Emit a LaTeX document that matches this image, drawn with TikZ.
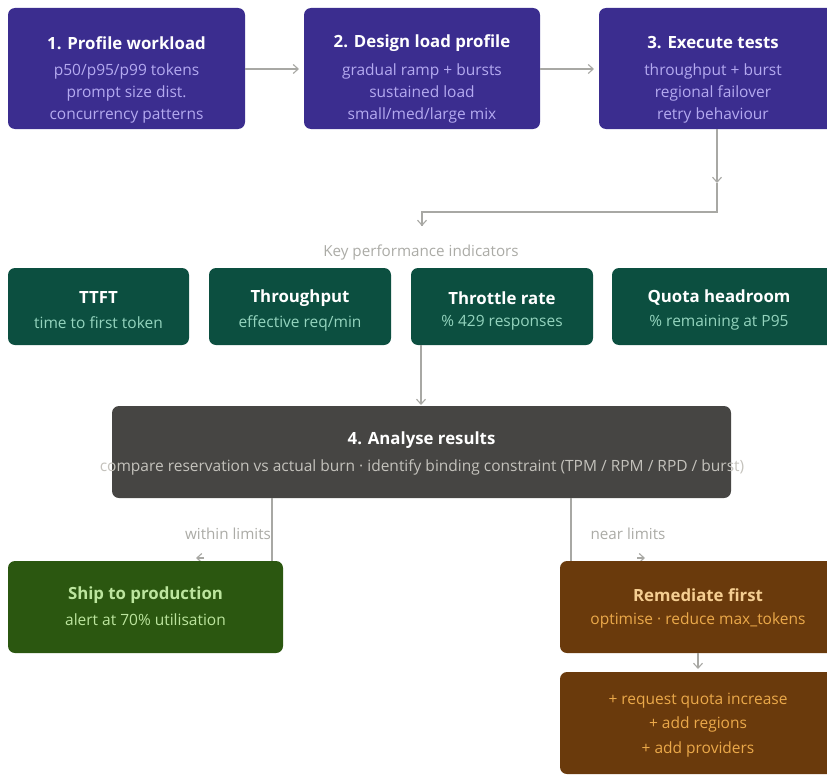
\documentclass[tikz,border=0pt]{standalone}
\usepackage{fontspec}
\setmainfont{Open Sans}
\usetikzlibrary{arrows.meta}
\definecolor{indigo}{HTML}{3B2D8F}
\definecolor{indigosub}{HTML}{B4AAF0}
\definecolor{teal}{HTML}{0C4F40}
\definecolor{tealsub}{HTML}{94D4BE}
\definecolor{slate}{HTML}{464543}
\definecolor{slatesub}{HTML}{C4C2BC}
\definecolor{leaf}{HTML}{2B5710}
\definecolor{leafsub}{HTML}{BCE59E}
\definecolor{rust}{HTML}{6A3A0C}
\definecolor{rusttitle}{HTML}{F5CE92}
\definecolor{rustsub}{HTML}{EBA94A}
\definecolor{wire}{HTML}{A8A8A4}
\definecolor{note}{HTML}{ABABA6}
\tikzset{
  x=1pt, y=-1pt,
  card/.style={rounded corners=7pt, draw=none},
  ttl/.style={font=\fontsize{16.8}{20}\selectfont\bfseries},
  sub/.style={font=\fontsize{15.5}{22}\selectfont, align=center},
  wirestyle/.style={draw=wire, line width=1.1pt, -{Straight Barb[length=5pt,width=9pt]}},
  notestyle/.style={text=note, font=\fontsize{15.2}{16}\selectfont},
}
\begin{document}
\begin{tikzpicture}
\useasboundingbox (0,0) rectangle (827,776);
\clip (0,0) rectangle (827,776);

% stage cards
\path[card, fill=indigo] (8,8) rectangle (245,129);
\path[card, fill=indigo] (304,8) rectangle (540,129);
\path[card, fill=indigo] (599,8) rectangle (845,129);
\node[ttl, text=white] (s1) at (126.5,43) {1. Profile workload};
\node[sub, text=indigosub] (s1b) at (126.5,93.5) {p50/p95/p99 tokens\\prompt size dist.\\concurrency patterns};
\node[ttl, text=white] (s2) at (422,43) {2. Design load profile};
\node[sub, text=indigosub] (s2b) at (422,93.5) {gradual ramp + bursts\\sustained load\\small/med/large mix};
\node[ttl, text=white] (s3) at (713,43) {3. Execute tests};
\node[sub, text=indigosub] (s3b) at (713,93.5) {throughput + burst\\regional failover\\retry behaviour};

\coordinate (a1s) at (245,69); \coordinate (a1e) at (299,69);
\coordinate (a2s) at (540,69); \coordinate (a2e) at (594,69);
\draw[wirestyle] (a1s) -- (a1e);
\draw[wirestyle] (a2s) -- (a2e);

% stage 3 to indicators
\coordinate (d0) at (717,129);
\coordinate (d1) at (717,183);
\coordinate (d2) at (717,212);
\coordinate (d3) at (422,212);
\coordinate (d4) at (422,226);
\draw[wirestyle] (d0) -- (d1);
\draw[draw=wire, line width=1.1pt] (d1) -- (d2) -- (d3) -- (d4);
\draw[wirestyle] (422,218) -- (d4);

\node[notestyle] (kpi) at (421,253) {Key performance indicators};

% indicator cards
\path[card, fill=teal] (8,268) rectangle (189,345);
\path[card, fill=teal] (209,268) rectangle (391,345);
\path[card, fill=teal] (411,268) rectangle (593,345);
\path[card, fill=teal] (612,268) rectangle (850,345);
\node[ttl, text=white] (k1) at (98.5,298) {TTFT};
\node[sub, text=tealsub] (k1b) at (98.5,323) {time to first token};
\node[ttl, text=white] (k2) at (300,298) {Throughput};
\node[sub, text=tealsub] (k2b) at (300,323) {effective req/min};
\node[ttl, text=white] (k3) at (502,298) {Throttle rate};
\node[sub, text=tealsub] (k3b) at (502,323) {\% 429 responses};
\node[ttl, text=white] (k4) at (719,298) {Quota headroom};
\node[sub, text=tealsub] (k4b) at (719,323) {\% remaining at P95};

\coordinate (t0) at (421,345); \coordinate (t1) at (421,405);
\draw[wirestyle] (t0) -- (t1);

% analysis
\path[card, fill=slate] (112,406) rectangle (731,498);
\node[ttl, text=white] (an) at (421.5,440) {4. Analyse results};
\node[sub, text=slatesub] (anb) at (422,467) {compare reservation vs actual burn · identify binding constraint (TPM / RPM / RPD / burst)};

% outcomes
\coordinate (w0) at (272,498); \coordinate (w1) at (272,561);
\draw[draw=wire, line width=1.1pt] (w0) -- (w1);
\node[notestyle] (wl) at (228,534) {within limits};
\draw[wirestyle] (204,558) -- (196,558);

\coordinate (n0) at (571,498); \coordinate (n1) at (571,561);
\draw[draw=wire, line width=1.1pt] (n0) -- (n1);
\node[notestyle] (nl) at (628,534) {near limits};
\draw[wirestyle] (637,558) -- (645,558);

\path[card, fill=leaf] (8,561) rectangle (283,653);
\node[ttl, text=leafsub] (sh) at (145.5,595) {Ship to production};
\node[sub, text=leafsub] (shb) at (145.5,620) {alert at 70\% utilisation};

\path[card, fill=rust] (560,561) rectangle (850,653);
\node[ttl, text=rusttitle] (rm) at (698,595) {Remediate first};
\node[sub, text=rustsub] (rmb) at (698,620) {optimise · reduce max\_tokens};

\coordinate (r0) at (698,653); \coordinate (r1) at (698,669);
\draw[wirestyle] (r0) -- (r1);

\path[card, fill=rust] (560,672) rectangle (850,774);
\node[sub, text=rustsub, font=\fontsize{15.5}{24.5}\selectfont] (rx) at (698,725) {+ request quota increase\\+ add regions\\+ add providers};
\end{tikzpicture}
\end{document}
